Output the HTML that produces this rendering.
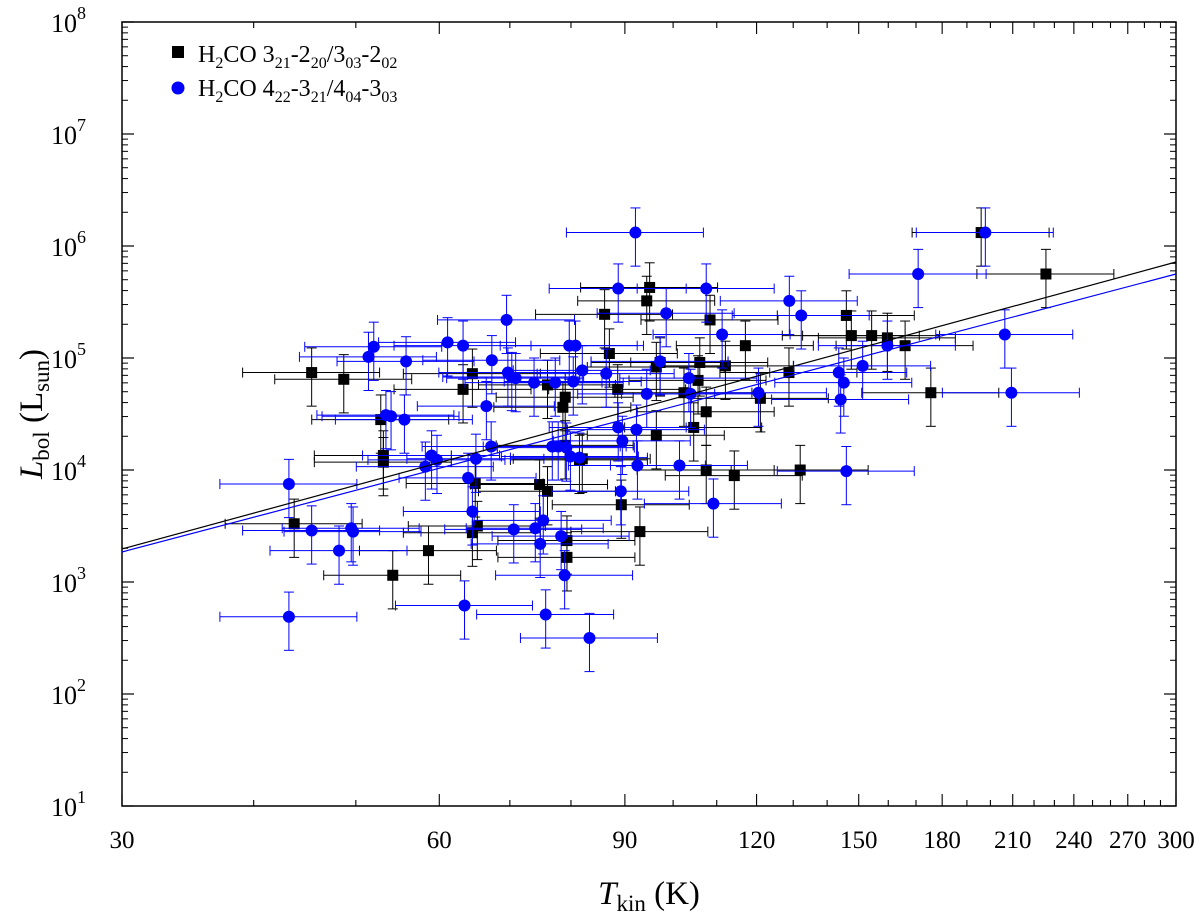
<!DOCTYPE html>
<html><head><meta charset="utf-8"><style>
html,body{margin:0;padding:0;background:#fff;}
svg{display:block;font-family:"Liberation Serif",serif;}
</style></head><body>
<svg id="chart" width="1200" height="924" viewBox="0 0 1200 924" xmlns="http://www.w3.org/2000/svg"></svg>
<script>
// ---- data ----
const tBlack=[45.4,48.7,43.7,52.8,53.1,53.1,54.2,58.6,63.2,64.5,64.9,64.5,65.2,74.7,76,76,78.6,79,79,79.3,79.3,81.5,82,86.1,87,88.6,89.3,93,94.4,95,96.4,96.4,97.2,102.4,104.6,105.6,106,107.5,107.5,108.4,112.1,114.3,117.1,121,128.8,132,146,147.6,154.3,159.7,166,175.6,196,225.8];
const logLBlack=[4.87,4.81,3.52,4.45,4.13,4.07,3.06,3.28,4.72,4.86,3.88,3.44,3.50,3.87,3.81,4.76,4.56,4.65,4.22,3.37,3.22,4.09,4.10,5.39,5.04,4.72,3.69,3.45,5.51,5.63,4.92,4.31,4.96,4.69,4.38,4.80,4.96,4.52,4.00,5.34,4.93,3.95,5.11,4.64,4.87,4.00,5.38,5.20,5.20,5.18,5.11,4.69,6.12,5.75];
const tBlue=[43.2,43.2,45.4,48.2,49.5,49.7,51.4,52,53.4,54,55.6,55.8,58.2,59.7,59,61.1,63.4,63.2,63.9,65,64.5,66.5,67.2,67.3,69.5,69.7,70.3,70.6,70.9,73.8,74,74.8,75.3,75.7,76.8,77.3,77.8,78.3,78.9,79.2,79.7,80.4,79.9,80.8,81.5,82,83.3,86.4,88.7,89.2,88.7,89.5,92.1,92.3,92.5,94.4,97.2,98.5,101.4,103.5,103.9,107.5,109.2,111.3,120.5,128.9,132.3,143.6,144.2,145.2,146,151.3,159.7,170.8,197.8,206.4,209.4];
const logLBlue=[3.875,2.69,3.46,3.28,3.48,3.45,5.01,5.10,4.49,4.48,4.45,4.97,4.03,4.09,4.13,5.14,2.79,5.11,3.93,4.10,3.63,4.57,4.21,4.98,5.34,4.87,4.83,3.47,4.82,4.78,3.48,3.34,3.55,2.71,4.21,4.78,4.21,3.41,3.06,4.20,5.11,4.79,4.12,5.11,4.11,4.89,2.50,4.86,4.38,3.81,5.62,4.26,6.12,4.36,4.04,4.68,4.97,5.40,4.04,4.82,4.68,5.62,3.70,5.21,4.69,5.51,5.38,4.87,4.63,4.78,3.99,4.93,5.11,5.75,6.12,5.21,4.69];
const fitBlack=[3.295,5.857]; // logL at T=30 and T=300
const fitBlue=[3.268,5.75];
const xTicks=[30,60,90,120,150,180,210,240,270,300];
const yTicks=[1,2,3,4,5,6,7,8];

// ---- axes ----
const X0=122,X1=1176,Y0=806,Y1=22;
const xs=t=>X0+(Math.log10(t)-Math.log10(30))*(X1-X0);
const ys=l=>Y0-(l-1)/7*(Y0-Y1);
const svg=document.getElementById('chart');
const NS='http://www.w3.org/2000/svg';
function mk(tag,attrs,parent){const e=document.createElementNS(NS,tag);for(const k in attrs)e.setAttribute(k,attrs[k]);(parent||svg).appendChild(e);return e;}

const frame=mk('rect',{x:X0,y:Y1,width:X1-X0,height:Y0-Y1,fill:'none',stroke:'#000','stroke-width':1.5});



const yg=mk('g',{});


for(let d=1;d<=8;d++){
  const y=ys(d);
  mk('line',{x1:X0,x2:X0+12,y1:y,y2:y,stroke:'#000','stroke-width':1.2},yg);
  mk('line',{x1:X1,x2:X1-12,y1:y,y2:y,stroke:'#000','stroke-width':1.2},yg);
  if(d<8)for(let m=2;m<=9;m++){const ym=ys(d+Math.log10(m));
    mk('line',{x1:X0,x2:X0+6,y1:ym,y2:ym,stroke:'#000','stroke-width':1},yg);
    mk('line',{x1:X1,x2:X1-6,y1:ym,y2:ym,stroke:'#000','stroke-width':1},yg);}
}
yTicks.forEach(d=>{
  const t=mk('text',{x:86,y:ys(d)+10,'font-size':26,'text-anchor':'end'},yg);
  
  
  t.textContent='10';
  const s=mk('tspan',{dy:-13,'font-size':18},t);s.textContent=d;
});
const xg=mk('g',{});


for(let v=30;v<=300;v+=10){
  const x=xs(v),maj=v%30===0,L=maj?12:6;
  mk('line',{x1:x,x2:x,y1:Y0,y2:Y0-L,stroke:'#000','stroke-width':1.1},xg);
  mk('line',{x1:x,x2:x,y1:Y1,y2:Y1+L,stroke:'#000','stroke-width':1.1},xg);
}
xTicks.forEach(v=>{
  const t=mk('text',{x:xs(v),y:848,'font-size':25,'text-anchor':'middle'},xg);
  
  
  t.textContent=v;
});

const xt=mk('text',{x:649,y:904,'font-size':33,'text-anchor':'middle'});


xt.innerHTML='<tspan font-style="italic">T</tspan><tspan font-size="23" dy="7">kin</tspan><tspan dy="-7"> (K)</tspan>';
const yt=mk('text',{x:0,y:0,'font-size':33,'text-anchor':'middle',transform:'translate(42,414) rotate(-90)'});


yt.innerHTML='<tspan font-style="italic">L</tspan><tspan font-size="23" dy="7">bol</tspan><tspan dy="-7"> (L</tspan><tspan font-size="23" dy="7">sun</tspan><tspan dy="-7">)</tspan>';

function drawSeries(T,LL,color,shape,name){
  const g=mk('g',{});
  
  
  T.forEach((t,i)=>{
    const x=xs(t),y=ys(LL[i]);
    const xl=xs(t*0.86),xr=xs(t*1.16),yl=ys(LL[i]-0.3),yh=ys(LL[i]+0.22);
    const eb=mk('g',{stroke:color,'stroke-width':1,fill:'none'},g);
    
    
    mk('line',{x1:xl,x2:xr,y1:y,y2:y},eb);
    mk('line',{x1:xl,x2:xl,y1:y-5,y2:y+5},eb);
    mk('line',{x1:xr,x2:xr,y1:y-5,y2:y+5},eb);
    mk('line',{x1:x,x2:x,y1:yl,y2:yh},eb);
    mk('line',{x1:x-5,x2:x+5,y1:yl,y2:yl},eb);
    mk('line',{x1:x-5,x2:x+5,y1:yh,y2:yh},eb);
  });
  T.forEach((t,i)=>{
    const x=xs(t),y=ys(LL[i]);
    let m;
    if(shape==='sq')m=mk('rect',{x:x-5.5,y:y-5.5,width:11,height:11,fill:color},g);
    else m=mk('circle',{cx:x,cy:y,r:6,fill:color},g);
    
    
  });
}
drawSeries(tBlack,logLBlack,'#000','sq','series-321-220');
drawSeries(tBlue,logLBlue,'#0000ff','circ','series-422-321');

const f1=mk('line',{x1:xs(30),x2:xs(300),y1:ys(fitBlack[0]),y2:ys(fitBlack[1]),stroke:'#000','stroke-width':1.2});


const f2=mk('line',{x1:xs(30),x2:xs(300),y1:ys(fitBlue[0]),y2:ys(fitBlue[1]),stroke:'#0000ff','stroke-width':1.2});



const lg=mk('g',{});


const l1=mk('rect',{x:172,y:46,width:12,height:12,fill:'#000'},lg);


const lt1=mk('text',{x:198,y:62,'font-size':24},lg);


lt1.innerHTML='H<tspan font-size="16" dy="6">2</tspan><tspan dy="-6">CO 3</tspan><tspan font-size="16" dy="6">21</tspan><tspan dy="-6">-2</tspan><tspan font-size="16" dy="6">20</tspan><tspan dy="-6">/3</tspan><tspan font-size="16" dy="6">03</tspan><tspan dy="-6">-2</tspan><tspan font-size="16" dy="6">02</tspan>';
const l2=mk('circle',{cx:178,cy:88,r:6.5,fill:'#0000ff'},lg);


const lt2=mk('text',{x:198,y:96,'font-size':24},lg);


lt2.innerHTML='H<tspan font-size="16" dy="6">2</tspan><tspan dy="-6">CO 4</tspan><tspan font-size="16" dy="6">22</tspan><tspan dy="-6">-3</tspan><tspan font-size="16" dy="6">21</tspan><tspan dy="-6">/4</tspan><tspan font-size="16" dy="6">04</tspan><tspan dy="-6">-3</tspan><tspan font-size="16" dy="6">03</tspan>';
</script>
</body></html>
